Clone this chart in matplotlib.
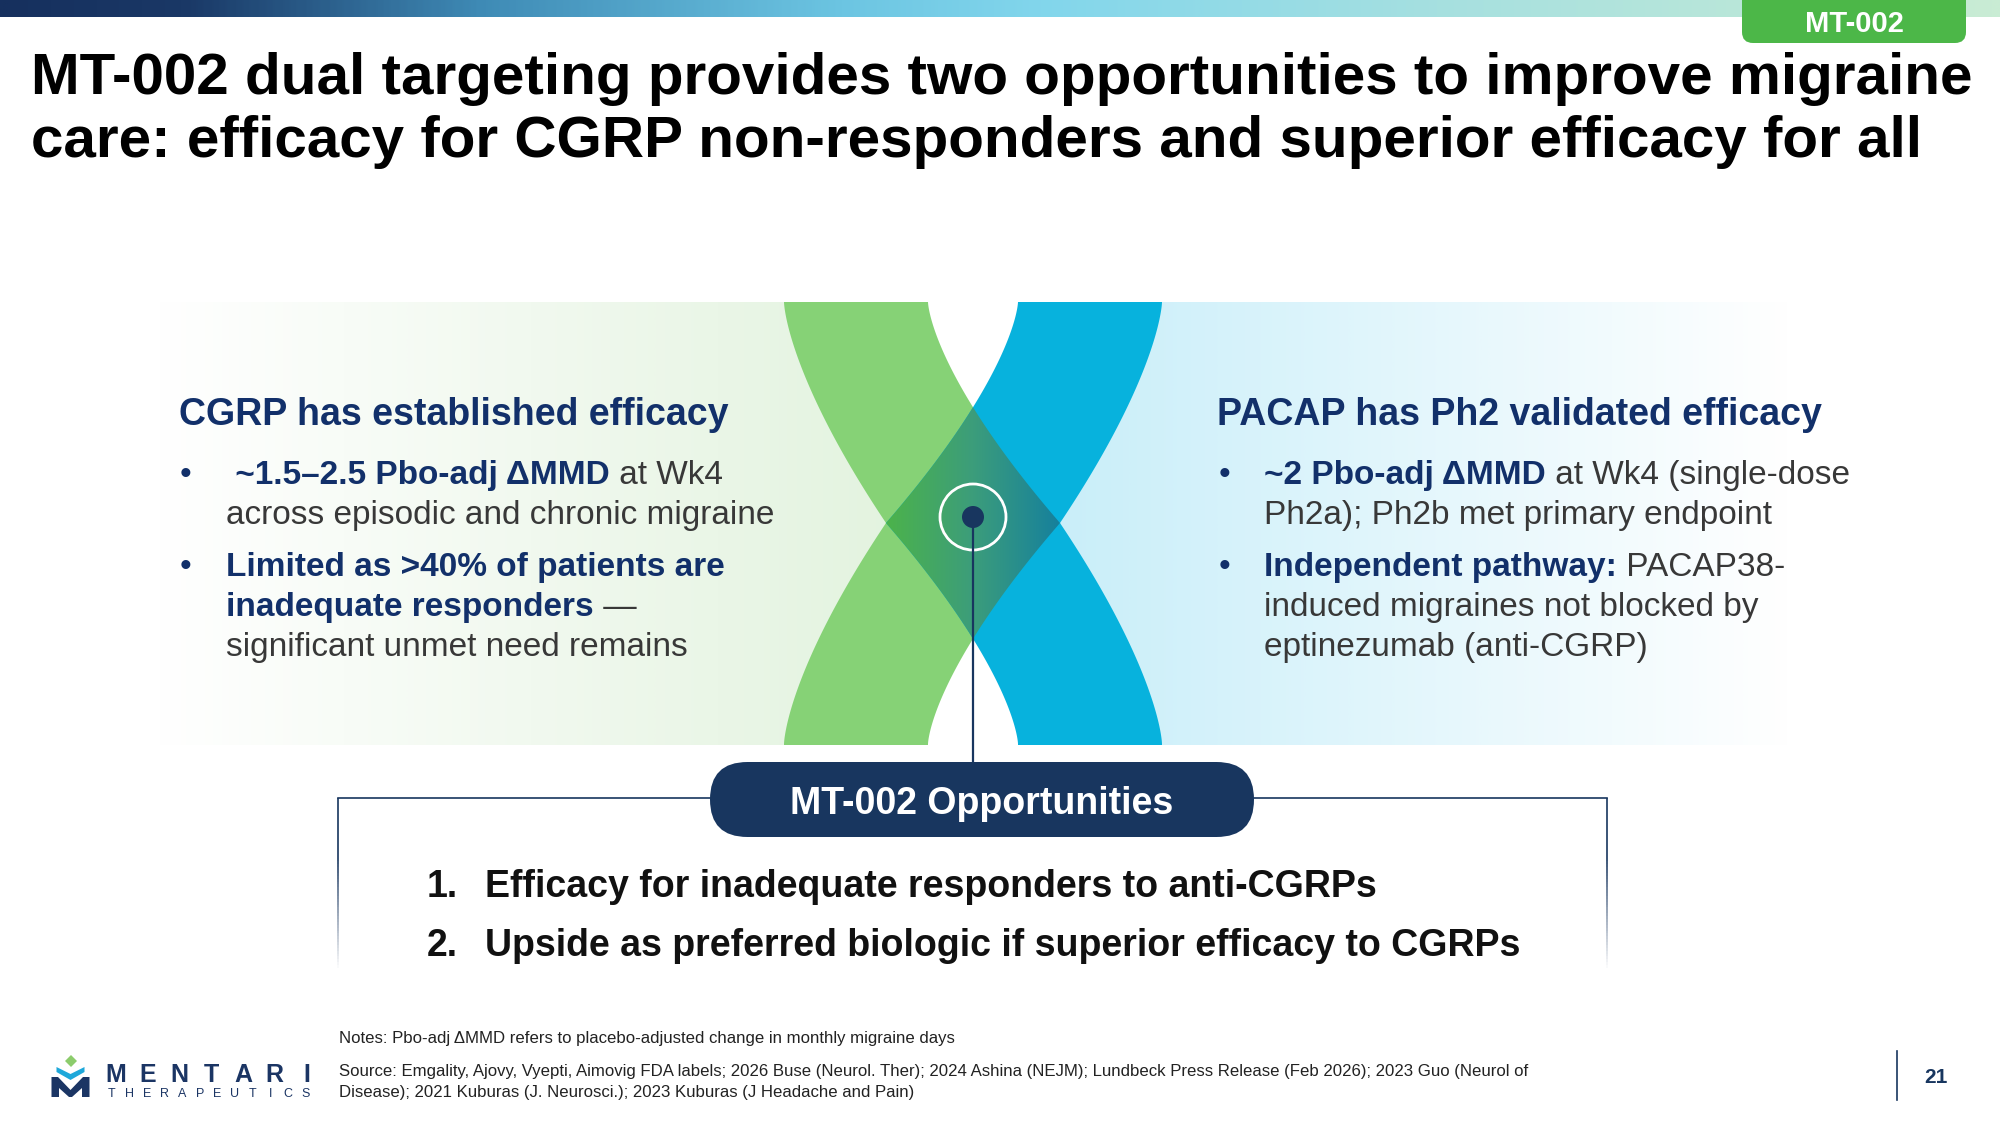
import numpy as np
import matplotlib
matplotlib.use('Agg')
import matplotlib.pyplot as plt
from matplotlib.patches import Polygon, Rectangle, FancyBboxPatch, Circle
from matplotlib.colors import LinearSegmentedColormap
from matplotlib.collections import LineCollection

FONT = ['Liberation Sans', 'DejaVu Sans']

# ---------------- content ----------------
title_lines = ["MT-002 dual targeting provides two opportunities to improve migraine",
               "care: efficacy for CGRP non-responders and superior efficacy for all"]
tag_text = "MT-002"
left_heading = "CGRP has established efficacy"
left_bullets = [
    [[(" ~1.5\u20132.5 Pbo-adj \u0394MMD", 'bold'), (" at Wk4", 'normal')],
     [("across episodic and chronic migraine", 'normal')]],
    [[("Limited as >40% of patients are", 'bold')],
     [("inadequate responders", 'bold'), (" \u2014", 'normal')],
     [("significant unmet need remains", 'normal')]],
]
right_heading = "PACAP has Ph2 validated efficacy"
right_bullets = [
    [[("~2 Pbo-adj \u0394MMD", 'bold'), (" at Wk4 (single-dose", 'normal')],
     [("Ph2a); Ph2b met primary endpoint", 'normal')]],
    [[("Independent pathway:", 'bold'), (" PACAP38-", 'normal')],
     [("induced migraines not blocked by", 'normal')],
     [("eptinezumab (anti-CGRP)", 'normal')]],
]
pill_text = "MT-002 Opportunities"
opportunity_nums = ["1.", "2."]
opportunities = ["Efficacy for inadequate responders to anti-CGRPs",
                 "Upside as preferred biologic if superior efficacy to CGRPs"]
notes_text = "Notes: Pbo-adj \u0394MMD refers to placebo-adjusted change in monthly migraine days"
source_lines = ["Source: Emgality, Ajovy, Vyepti, Aimovig FDA labels; 2026 Buse (Neurol. Ther); 2024 Ashina (NEJM); Lundbeck Press Release (Feb 2026); 2023 Guo (Neurol of",
                "Disease); 2021 Kuburas (J. Neurosci.); 2023 Kuburas (J Headache and Pain)"]
page_number = "21"
logo_word = "MENTARI"
logo_sub = "THERAPEUTICS"

# ---------------- colours ----------------
NAVY = '#12306a'
PILL = '#18365f'
BODY = '#383838'
GREEN_BAND = '#86d276'
BLUE_BAND = '#07b2dd'
TAG_GREEN = '#4cb748'

fig = plt.figure(figsize=(20, 11.25), dpi=100)
ax = fig.add_axes([0, 0, 1, 1])
ax.set_autoscale_on(False)
ax.set_xlim(0, 2000)
ax.set_ylim(1125, 0)
ax.axis('off')
R = fig.canvas.get_renderer()


def hgrad(x0, x1, y0, y1, stops, z, clip=None):
    cmap = LinearSegmentedColormap.from_list('g', stops)
    img = cmap(np.linspace(0, 1, 600))[None, :, :]
    im = ax.imshow(img, extent=[x0, x1, y1, y0], aspect='auto', zorder=z,
                   interpolation='bilinear')
    if clip is not None:
        im.set_clip_path(clip)
    return im


def ink_w(s, size, weight):
    t = ax.text(0, 0, s, fontsize=size, fontweight=weight, family=FONT)
    w = t.get_window_extent(renderer=R).width
    t.remove()
    return w


def advance(s, size, weight):
    return ink_w('.' + s + '.', size, weight) - ink_w('..', size, weight)


def rich(x, y, segs, size, bold_color, reg_color):
    for s, w in segs:
        c = bold_color if w == 'bold' else reg_color
        ax.text(x, y, s, fontsize=size, fontweight=w, family=FONT, color=c,
                ha='left', va='baseline', zorder=10)
        x += advance(s, size, w)


# ---------------- top bar & tag ----------------
hgrad(0, 2000, 0, 17, [(0.0, '#16305e'), (0.09, '#1a3866'), (0.24, '#3f8bb6'),
                      (0.42, '#6cc5e2'), (0.52, '#82d6ec'), (0.72, '#a6e0e0'),
                      (1.0, '#c9ecd4')], 1)
ax.add_patch(FancyBboxPatch((1742, -30), 224, 73, boxstyle='round,pad=0,rounding_size=11',
                            fc=TAG_GREEN, ec='none', zorder=2))
ax.text(1854, 24, tag_text, fontsize=21, fontweight='bold', family=FONT, color='white',
        ha='center', va='center', zorder=3)

# ---------------- title ----------------
for i, line in enumerate(title_lines):
    ax.text(31, 94 + i * 63, line, fontsize=42, fontweight='bold', family=FONT,
            color='black', ha='left', va='baseline')

# ---------------- panels ----------------
Y0, YM, Y1 = 302, 523, 745
hgrad(157, 905, Y0, Y1, [(0, '#ffffff'), (1, '#e3f3df')], 1)
hgrad(1040, 1790, Y0, Y1, [(0, '#c8eef9'), (1, '#ffffff')], 1)

ys = np.linspace(Y0, Y1, 400)


def edge(xa, xm):
    t = 1 - np.abs(ys - YM) / (YM - Y0)
    return xa + (xm - xa) * np.clip(t, 0, 1) ** 1.45


gl, gr = edge(784, 886), edge(928, 1060)
bl, br = edge(1018, 886), edge(1162, 1060)


def band(lft, rgt, color):
    pts = np.vstack([np.column_stack([lft, ys]), np.column_stack([rgt[::-1], ys[::-1]])])
    ax.add_patch(Polygon(pts, closed=True, fc=color, ec='none', zorder=2))


band(gl, gr, GREEN_BAND)
band(bl, br, BLUE_BAND)

L = np.maximum(gl, bl)
Rr = np.minimum(gr, br)
m = L <= Rr
dpts = np.vstack([np.column_stack([L[m], ys[m]]), np.column_stack([Rr[m][::-1], ys[m][::-1]])])
diamond = Polygon(dpts, closed=True, fc='none', ec='none', zorder=3)
ax.add_patch(diamond)
hgrad(880, 1066, 400, 645, [(0, '#4db447'), (0.5, '#3c9d7b'), (1, '#137e9f')], 3, clip=diamond)

# target marker
ax.add_patch(Circle((973, 517), 33, fill=False, ec='white', lw=2.0, zorder=5))
ax.add_patch(Circle((973, 517), 11, fc=PILL, ec='none', zorder=6))
ax.plot([973, 973], [520, 765], color=PILL, lw=1.6, zorder=5, solid_capstyle='butt')

# ---------------- panel texts ----------------
SZH, SZB = 27, 24
BASE = [484, 524, 576, 616, 656]


def panel(xh, xb, xt, heading, bullets):
    ax.text(xh, 425, heading, fontsize=SZH, fontweight='bold', family=FONT, color=NAVY,
            ha='left', va='baseline', zorder=10)
    k = 0
    for b in bullets:
        for j, line in enumerate(b):
            if j == 0:
                ax.text(xb, BASE[k], '\u2022', fontsize=SZB, family=FONT, color=NAVY,
                        ha='left', va='baseline', zorder=10)
            rich(xt, BASE[k], line, SZB, NAVY, BODY)
            k += 1


panel(179, 180, 226, left_heading, left_bullets)
panel(1217, 1219, 1264, right_heading, right_bullets)

# ---------------- opportunities box ----------------
ax.plot([338, 1607], [798, 798], color=PILL, lw=1.2, zorder=4)
yy = np.linspace(798, 968, 60)
for xv in (338, 1607):
    segs = [[(xv, yy[i]), (xv, yy[i + 1])] for i in range(len(yy) - 1)]
    al = np.clip((968 - yy[:-1]) / 110.0, 0, 1)
    cols = [(0.094, 0.212, 0.373, a) for a in al]
    ax.add_collection(LineCollection(segs, colors=cols, linewidths=1.2, zorder=4))

ax.add_patch(FancyBboxPatch((710, 762), 544, 75, boxstyle='round,pad=0,rounding_size=37.5',
                            fc=PILL, ec='none', zorder=6))
ax.text(982, 814, pill_text, fontsize=27, fontweight='bold', family=FONT, color='white',
        ha='center', va='baseline', zorder=7)

for i, (num, txt) in enumerate(zip(opportunity_nums, opportunities)):
    yb = 897 + i * 59
    ax.text(427, yb, num, fontsize=27, fontweight='bold', family=FONT, color='#111111',
            ha='left', va='baseline', zorder=7)
    ax.text(485, yb, txt, fontsize=27, fontweight='bold', family=FONT, color='#111111',
            ha='left', va='baseline', zorder=7)

# ---------------- footer ----------------
ax.text(339, 1043, notes_text, fontsize=12.1, family=FONT, color='#222222',
        ha='left', va='baseline')
for i, s in enumerate(source_lines):
    ax.text(339, 1076 + i * 21, s, fontsize=12.1, family=FONT, color='#222222',
            ha='left', va='baseline')

ax.plot([1897, 1897], [1051, 1100], color=PILL, lw=1.2)
ax.text(1936, 1083, page_number, fontsize=15, fontweight='bold', family=FONT, color=PILL,
        ha='center', va='baseline')

# ---------------- logo ----------------
ax.add_patch(Polygon([(51.5, 1097), (51.5, 1077), (58, 1077), (70.5, 1090), (83, 1077),
                      (89.5, 1077), (89.5, 1097), (82, 1097), (82, 1088), (72, 1097),
                      (69, 1097), (59, 1088), (59, 1097)], closed=True, fc='#1b3564', ec='none'))
ax.add_patch(Polygon([(56.5, 1067), (70.5, 1074), (84.5, 1067), (84.5, 1072), (70.5, 1080),
                      (56.5, 1072)], closed=True, fc='#1ea8da', ec='none'))
ax.add_patch(Polygon([(71, 1055), (77, 1061), (71, 1067), (65, 1061)], closed=True,
                     fc='#8ccc6c', ec='none'))
for i, ch in enumerate(logo_word):
    ax.text(116 + i * 31.75, 1082, ch, fontsize=18, fontweight='bold', family=FONT,
            color='#1b3564', ha='center', va='baseline')
for i, ch in enumerate(logo_sub):
    ax.text(111.5 + i * 17.64, 1097, ch, fontsize=9, family=FONT,
            color='#1b3564', ha='center', va='baseline')

fig.savefig('out.png', dpi=100, facecolor='white')
